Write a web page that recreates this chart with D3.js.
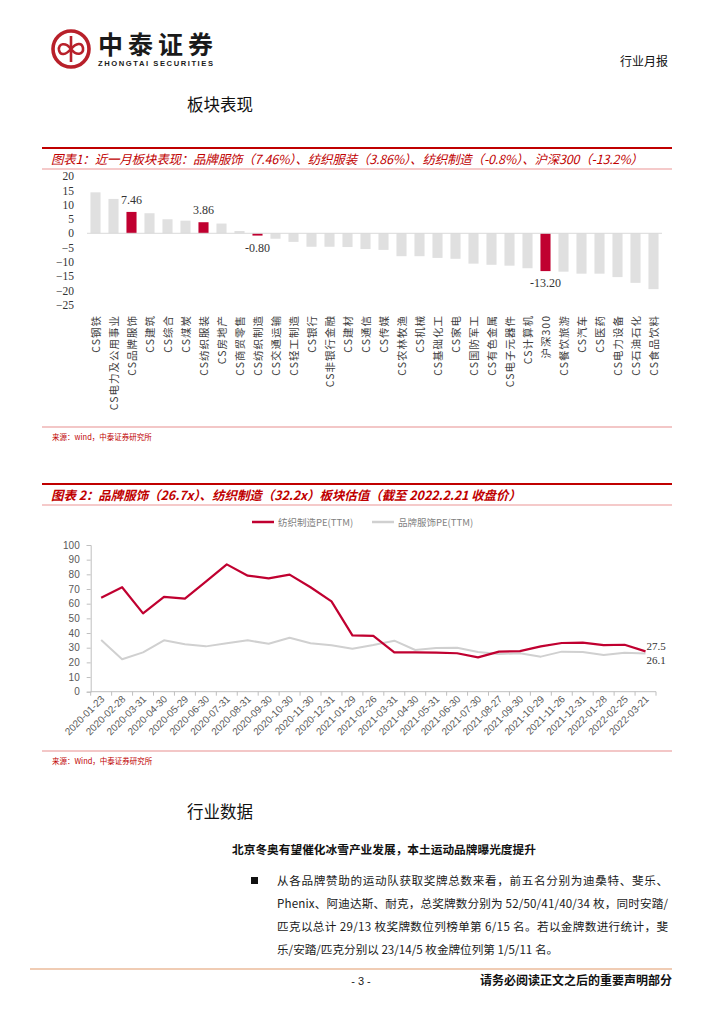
<!DOCTYPE html>
<html><head><meta charset="utf-8">
<script src="https://cdn.jsdelivr.net/npm/d3@7"></script>
<style>
html,body{margin:0;padding:0;background:#fff;}
svg{display:block;}
</style></head>
<body>
<svg id="page" width="724" height="1024"></svg>
<script>
// ---------- DATA ----------
const sectors = ["CS钢铁","CS电力及公用事业","CS品牌服饰","CS建筑","CS综合","CS煤炭","CS纺织服装","CS房地产","CS商贸零售","CS纺织制造","CS交通运输","CS轻工制造","CS银行","CS非银行金融","CS建材","CS通信","CS传媒","CS农林牧渔","CS机械","CS基础化工","CS家电","CS国防军工","CS有色金属","CS电子元器件","CS计算机","沪深300","CS餐饮旅游","CS汽车","CS医药","CS电力设备","CS石油石化","CS食品饮料"];
const sectorReturns = [14.3,12.0,7.46,7.0,4.9,4.4,3.86,3.4,0.8,-0.80,-1.9,-3.0,-4.7,-4.7,-4.8,-5.5,-5.8,-8.0,-8.0,-8.6,-8.9,-10.6,-11.0,-11.3,-12.2,-13.20,-13.4,-14.1,-14.1,-15.3,-17.3,-19.5];
const highlighted = ["CS品牌服饰","CS纺织服装","CS纺织制造","沪深300"];
const yTicks1 = [20,15,10,5,0,-5,-10,-15,-20,-25];

const dates = ["2020-01-23","2020-02-28","2020-03-31","2020-04-30","2020-05-29","2020-06-30","2020-07-31","2020-08-31","2020-09-30","2020-10-30","2020-11-30","2020-12-31","2021-01-29","2021-02-26","2021-03-31","2021-04-30","2021-05-31","2021-06-30","2021-07-30","2021-08-27","2021-09-30","2021-10-29","2021-11-26","2021-12-31","2022-01-28","2022-02-25","2022-03-21"];
const textileMfgPE = [64.1,71.2,53.4,64.6,63.4,75.0,86.8,79.1,77.3,79.8,71.2,61.6,38.4,38.0,26.8,26.8,26.6,26.2,23.4,27.3,27.7,30.9,33.2,33.4,31.8,32.0,27.5];
const brandApparelPE = [35.2,22.1,26.8,35.0,32.3,30.9,33.0,35.0,32.7,36.8,33.0,31.6,29.3,31.8,34.8,28.4,29.8,30.0,27.1,25.7,26.2,23.9,27.3,27.1,25.0,26.6,26.1];
const yTicks2 = [0,10,20,30,40,50,60,70,80,90,100];
const seriesNames = ["纺织制造PE(TTM)","品牌服饰PE(TTM)"];

// ---------- STYLE ----------
const RED = "#C00030", DARKRED = "#C00000", GRAY = "#E0E0E0", LGRAY = "#D0D0D0";
const CJK = "'Noto Sans CJK SC','Noto Sans',sans-serif";
const SERIF = "'Liberation Serif','DejaVu Serif',serif";
const SANS = "'Liberation Sans',Arial,sans-serif";

const svg = d3.select("#page");

// ---------- HEADER ----------
const logo = svg.append("g");
logo.append("circle").attr("cx",71).attr("cy",49).attr("r",18).attr("fill","none").attr("stroke","#B8202A").attr("stroke-width",3.6);
logo.append("line").attr("x1",71).attr("x2",71).attr("y1",36).attr("y2",62).attr("stroke","#B8202A").attr("stroke-width",2.6);
logo.append("path").attr("d","M71,49 C66,42 58,43 59,50 C60,56 66,55 71,49 C76,43 82,42 83,48 C84,55 76,56 71,49")
  .attr("fill","none").attr("stroke","#B8202A").attr("stroke-width",2.6);
svg.append("text").attr("x",98).attr("y",54).text("中泰证券")
  .attr("font-family",CJK).attr("font-weight","bold").attr("font-size",25).attr("fill","#1a1a1a").attr("textLength",115);
svg.append("text").attr("x",98).attr("y",66).text("ZHONGTAI SECURITIES")
  .attr("font-family",SANS).attr("font-weight","bold").attr("font-size",7.6).attr("fill","#1a1a1a").attr("textLength",115);
svg.append("text").attr("x",668).attr("y",66).attr("text-anchor","end").text("行业月报")
  .attr("font-family",CJK).attr("font-size",12).attr("fill","#111");
svg.append("text").attr("x",187).attr("y",111).text("板块表现")
  .attr("font-family",CJK).attr("font-size",16.5).attr("fill","#111");

// ---------- CHART TITLE HELPER ----------
function titleBar(yTop, txt, len, bold){
  svg.append("line").attr("x1",42).attr("x2",672).attr("y1",yTop).attr("y2",yTop).attr("stroke",DARKRED).attr("stroke-width",2);
  svg.append("text").attr("x",51).attr("y",yTop+16).text(txt)
    .attr("font-family",CJK).attr("font-style","italic").attr("font-weight",bold?"bold":"normal")
    .attr("font-size",12.5).attr("fill",DARKRED).attr("textLength",len).attr("lengthAdjust","spacing");
  svg.append("line").attr("x1",42).attr("x2",672).attr("y1",yTop+21).attr("y2",yTop+21).attr("stroke","#F2B8B8").attr("stroke-width",1.5);
}
function sourceLine(y, txt){
  svg.append("line").attr("x1",42).attr("x2",672).attr("y1",y).attr("y2",y).attr("stroke","#EFB4B4").attr("stroke-width",1.5);
  svg.append("text").attr("x",52).attr("y",y+13).text(txt)
    .attr("font-family",CJK).attr("font-size",7.5).attr("fill",DARKRED);
}

// ---------- CHART 1 ----------
titleBar(148, "图表1：近一月板块表现：品牌服饰（7.46%）、纺织服装（3.86%）、纺织制造（-0.8%）、沪深300（-13.2%）", 592, false);

const x1 = d3.scaleBand().domain(sectors).range([86.5,662.5]).paddingInner(0.44).paddingOuter(0.22);
const y1 = d3.scaleLinear().domain([-25,20]).range([304.9,176]);

const g1 = svg.append("g");
g1.append("g").attr("transform","translate(76,0)")
  .call(d3.axisLeft(y1).tickValues(yTicks1).tickSize(0).tickPadding(2))
  .call(g=>g.select(".domain").remove())
  .call(g=>g.selectAll("text").attr("font-family",SERIF).attr("font-size",11.5).attr("fill","#333"));

g1.selectAll("rect.bar").data(sectors).join("rect").attr("class","bar")
  .attr("x",d=>x1(d)).attr("width",x1.bandwidth())
  .attr("y",(d,i)=>y1(Math.max(0,sectorReturns[i])))
  .attr("height",(d,i)=>Math.abs(y1(sectorReturns[i])-y1(0)))
  .attr("fill",d=>highlighted.includes(d)?RED:GRAY);

g1.append("line").attr("x1",87).attr("x2",662).attr("y1",y1(0)).attr("y2",y1(0)).attr("stroke","#D9D9D9").attr("stroke-width",1);

g1.selectAll("text.val").data(sectors.filter(d=>highlighted.includes(d))).join("text").attr("class","val")
  .attr("x",d=>x1(d)+x1.bandwidth()/2)
  .attr("y",d=>{const v=sectorReturns[sectors.indexOf(d)]; return v>=0 ? y1(v)-8 : y1(v)+16;})
  .attr("text-anchor","middle").text(d=>sectorReturns[sectors.indexOf(d)].toFixed(2))
  .attr("font-family",SERIF).attr("font-size",12).attr("fill","#333");

g1.selectAll("text.cat").data(sectors).join("text").attr("class","cat")
  .attr("transform",d=>`translate(${x1(d)+x1.bandwidth()/2+4},315) rotate(-90)`)
  .attr("text-anchor","end").text(d=>d)
  .attr("font-family",CJK).attr("font-size",10.5).attr("letter-spacing",1).attr("fill","#404040");

sourceLine(427, "来源：wind，中泰证券研究所");

// ---------- CHART 2 ----------
titleBar(484, "图表 2：品牌服饰（26.7x）、纺织制造（32.2x）板块估值（截至 2022.2.21 收盘价）", 470, true);

// legend
const leg = svg.append("g");
leg.append("line").attr("x1",252).attr("x2",274).attr("y1",522).attr("y2",522).attr("stroke",RED).attr("stroke-width",2.5);
leg.append("text").attr("x",278).attr("y",525.5).text(seriesNames[0]).attr("font-family",CJK).attr("font-size",9.5).attr("fill","#7F7F7F");
leg.append("line").attr("x1",372).attr("x2",394).attr("y1",522).attr("y2",522).attr("stroke",LGRAY).attr("stroke-width",2.5);
leg.append("text").attr("x",398).attr("y",525.5).text(seriesNames[1]).attr("font-family",CJK).attr("font-size",9.5).attr("fill","#7F7F7F");

const x2 = d3.scalePoint().domain(dates).range([90.7,656]).padding(0.5);
const y2 = d3.scaleLinear().domain([0,100]).range([691.7,545]);
const step2 = x2.step();

const g2 = svg.append("g");
g2.append("g").attr("transform","translate(90.7,0)")
  .call(d3.axisLeft(y2).tickValues(yTicks2).tickSize(4).tickPadding(7).tickFormat(d3.format("d")))
  .call(g=>g.select(".domain").attr("stroke","#BFBFBF"))
  .call(g=>g.selectAll(".tick line").attr("stroke","#BFBFBF"))
  .call(g=>g.selectAll("text").attr("font-family",SANS).attr("font-size",10).attr("fill","#595959"));

g2.append("line").attr("x1",90.7).attr("x2",656).attr("y1",y2(0)).attr("y2",y2(0)).attr("stroke","#BFBFBF");
g2.selectAll("line.xt").data(d3.range(dates.length+1)).join("line").attr("class","xt")
  .attr("x1",i=>x2(dates[0])-step2/2+i*step2).attr("x2",i=>x2(dates[0])-step2/2+i*step2)
  .attr("y1",y2(0)).attr("y2",y2(0)+4).attr("stroke","#BFBFBF");

g2.selectAll("text.dt").data(dates).join("text").attr("class","dt")
  .attr("transform",d=>`translate(${x2(d)+4},${y2(0)+8}) rotate(-45)`)
  .attr("text-anchor","end").text(d=>d)
  .attr("font-family",SANS).attr("font-size",10).attr("fill","#595959");

const line = vals => d3.line().x((d,i)=>x2(dates[i])).y(d=>y2(d))(vals);
g2.append("path").attr("d",line(brandApparelPE)).attr("fill","none").attr("stroke",LGRAY).attr("stroke-width",2).attr("stroke-linejoin","round");
g2.append("path").attr("d",line(textileMfgPE)).attr("fill","none").attr("stroke",RED).attr("stroke-width",2.2).attr("stroke-linejoin","round");

const last = dates[dates.length-1];
g2.append("text").attr("x",x2(last)+1).attr("y",y2(textileMfgPE[26])-1).text(textileMfgPE[26].toFixed(1))
  .attr("font-family",SERIF).attr("font-size",11).attr("fill","#333");
g2.append("text").attr("x",x2(last)+1).attr("y",y2(brandApparelPE[26])+11).text(brandApparelPE[26].toFixed(1))
  .attr("font-family",SERIF).attr("font-size",11).attr("fill","#333");

sourceLine(751, "来源：Wind，中泰证券研究所");

// ---------- TEXT SECTION ----------
svg.append("text").attr("x",187).attr("y",818).text("行业数据")
  .attr("font-family",CJK).attr("font-size",16.5).attr("fill","#111");
svg.append("text").attr("x",232).attr("y",854).text("北京冬奥有望催化冰雪产业发展，本土运动品牌曝光度提升")
  .attr("font-family",CJK).attr("font-weight","bold").attr("font-size",11.7).attr("fill","#111");
svg.append("rect").attr("x",251).attr("y",877).attr("width",7).attr("height",7).attr("fill","#111");
const paras = ["从各品牌赞助的运动队获取奖牌总数来看，前五名分别为迪桑特、斐乐、",
  "Phenix、阿迪达斯、耐克，总奖牌数分别为 52/50/41/40/34 枚，同时安踏/",
  "匹克以总计 29/13 枚奖牌数位列榜单第 6/15 名。若以金牌数进行统计，斐",
  "乐/安踏/匹克分别以 23/14/5 枚金牌位列第 1/5/11 名。"];
svg.selectAll("text.para").data(paras).join("text").attr("class","para")
  .attr("x",277).attr("y",(d,i)=>885+i*23).text(d=>d)
  .attr("font-family",CJK).attr("font-size",11.6).attr("fill","#1a1a1a")
  .each(function(d,i){ if(i<3) d3.select(this).attr("textLength",391); });

// ---------- FOOTER ----------
svg.append("line").attr("x1",30).attr("x2",672).attr("y1",969).attr("y2",969).attr("stroke","#F0CCB4").attr("stroke-width",2);
svg.append("text").attr("x",361).attr("y",985).attr("text-anchor","middle").text("- 3 -")
  .attr("font-family",SANS).attr("font-size",11).attr("fill","#222");
svg.append("text").attr("x",672).attr("y",985).attr("text-anchor","end").text("请务必阅读正文之后的重要声明部分")
  .attr("font-family",CJK).attr("font-weight","bold").attr("font-size",12).attr("fill","#111");
</script>
</body></html>
